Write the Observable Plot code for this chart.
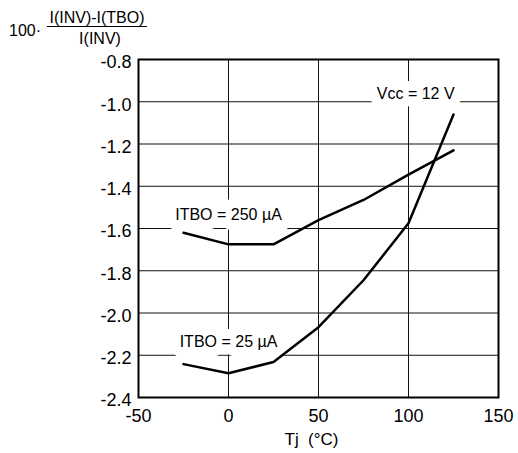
<!DOCTYPE html>
<html>
<head>
<meta charset="utf-8">
<script src="https://cdn.jsdelivr.net/npm/d3@7"></script>
<script src="https://cdn.jsdelivr.net/npm/@observablehq/plot@0.6"></script>
<style>
  html, body { margin: 0; padding: 0; background: #fff; }
</style>
</head>
<body>
<div id="chart"></div>
<script>
// Data
const tj = [-25, 0, 25, 50, 75, 100, 125];
const itbo250 = [-1.62, -1.675, -1.675, -1.56, -1.465, -1.345, -1.23];
const itbo25 = [-2.242, -2.285, -2.232, -2.067, -1.845, -1.575, -1.06];
const xTicks = [-50, 0, 50, 100, 150];
const yTicks = [-2.4, -2.2, -2.0, -1.8, -1.6, -1.4, -1.2, -1.0, -0.8];
const labels = [
  {text: "ITBO = 250 µA", x: 0, y: -1.535},
  {text: "ITBO = 25 µA", x: 0, y: -2.135},
  {text: "Vcc = 12 V", x: 104, y: -0.962}
];

const series = [
  ...tj.map((t, i) => ({series: "250", x: t, y: itbo250[i]})),
  ...tj.map((t, i) => ({series: "25", x: t, y: itbo25[i]}))
];

const font = "'Liberation Sans', Arial, Helvetica, sans-serif";

const chart = Plot.plot({
  width: 518,
  height: 453,
  marginLeft: 138,
  marginRight: 20,
  marginTop: 59,
  marginBottom: 56,
  style: {fontFamily: font, fontSize: "17px", color: "#000", background: "#fff"},
  x: {domain: [-50, 150], ticks: xTicks, label: null},
  y: {domain: [-2.4, -0.8], ticks: yTicks, label: null},
  marks: [
    Plot.gridX(xTicks, {stroke: "#111", strokeOpacity: 1, strokeWidth: 1}),
    Plot.gridY(yTicks, {stroke: "#111", strokeOpacity: 1, strokeWidth: 1}),
    Plot.text(labels, {
      x: "x", y: "y", text: "text",
      fontSize: 16, fill: "#000",
      stroke: "white", strokeWidth: 20, paintOrder: "stroke"
    }),
    Plot.line(series, {x: "x", y: "y", z: "series", stroke: "#000", strokeWidth: 2.5, strokeLinejoin: "round"}),
    Plot.frame({stroke: "#000", strokeWidth: 2}),
    Plot.axisX(xTicks, {tickSize: 0, tickPadding: 12, fontSize: 18, label: null, tickFormat: d => String(d)}),
    Plot.axisY(yTicks, {tickSize: 0, tickPadding: 7, dy: 3, fontSize: 18, label: null, tickFormat: d => d.toFixed(1)}),
    Plot.text(["Tj  (°C)"], {frameAnchor: "bottom", dy: 47, dx: -7, fontSize: 17, text: d => d, fill: "#000"})
  ]
});

// Y axis title: 100 · (I(INV)-I(TBO)) / I(INV)
const svg = d3.select(chart);
const g = svg.append("g").attr("font-family", font).attr("fill", "#000");
g.append("text").attr("x", 9).attr("y", 36).attr("font-size", 16).attr("text-anchor", "start").text("100·");
g.append("text").attr("x", 97).attr("y", 23).attr("font-size", 16).attr("text-anchor", "middle").text("I(INV)-I(TBO)");
g.append("line").attr("x1", 47).attr("x2", 147).attr("y1", 26.5).attr("y2", 26.5).attr("stroke", "#000").attr("stroke-width", 1.2);
g.append("text").attr("x", 100).attr("y", 44).attr("font-size", 16).attr("text-anchor", "middle").text("I(INV)");

document.getElementById("chart").appendChild(chart);
</script>
</body>
</html>
